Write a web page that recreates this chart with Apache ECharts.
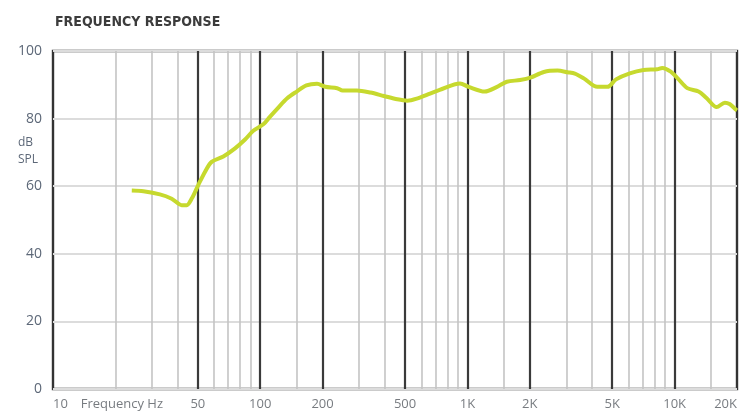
<!DOCTYPE html>
<html>
<head>
<meta charset="utf-8">
<script src="https://cdn.jsdelivr.net/npm/echarts@6/dist/echarts.min.js"></script>
<style>
html,body{margin:0;padding:0;background:#fff;}
#chart{width:739px;height:415px;}
</style>
</head>
<body>
<div id="chart"></div>
<script>
// Frequency response curve (Hz, dB SPL)
var freqHz = [24, 27.3, 32.8, 37.4, 41.8, 44.2, 46.8, 50.3, 54.2, 58.3, 66.4, 75.6, 84.5, 92.6, 103.9, 111.6, 122, 135, 150, 167, 188, 206, 235, 250, 293, 340, 395, 459, 513, 575, 660, 735, 921, 1012, 1212, 1382, 1549, 1796, 2012, 2337, 2720, 3047, 3300, 3645, 4233, 4743, 5213, 6073, 7074, 8240, 8713, 9580, 10350, 11510, 13050, 14290, 15960, 17470, 18420, 19800, 20000];
var splDb  = [58.7, 58.5, 57.6, 56.3, 54.4, 54.4, 56.4, 60.4, 64.3, 67.2, 68.8, 71.2, 73.8, 76.4, 78.4, 80.6, 83.2, 86.0, 88.0, 89.8, 90.3, 89.4, 89.0, 88.3, 88.3, 87.7, 86.7, 85.7, 85.3, 86.0, 87.4, 88.5, 90.4, 89.4, 88.0, 89.3, 90.9, 91.4, 92.1, 93.8, 94.2, 93.7, 93.3, 91.9, 89.4, 89.4, 91.6, 93.4, 94.4, 94.6, 95.0, 93.9, 91.9, 89.0, 88.0, 86.0, 83.4, 84.7, 84.3, 82.6, 82.4];

// Grid lines
var majorLines = [50, 100, 200, 500, 1000, 2000, 5000, 10000];
var minorLines = [20, 30, 40, 60, 70, 80, 90, 150, 300, 400, 600, 700, 800, 900, 1500, 3000, 4000, 6000, 7000, 8000, 9000, 15000];

// Axis labels
var xLabelValues = [10, 21.5, 50, 100, 200, 500, 1000, 2000, 5000, 10000, 20000];
var xLabelTexts  = ['10', 'Frequency Hz', '50', '100', '200', '500', '1K', '2K', '5K', '10K', '20K'];
var yMin = 0, yMax = 100, yStep = 20;

var curve = freqHz.map(function (f, i) { return [f, splDb[i]]; });

var gridMarks = [];
minorLines.forEach(function (f) {
  gridMarks.push({ xAxis: f, lineStyle: { color: '#c4c4c4', width: 1.6, type: 'solid' } });
});
majorLines.forEach(function (f) {
  gridMarks.push({ xAxis: f, lineStyle: { color: '#3a3a3a', width: 2.2, type: 'solid' } });
});

var labelData = xLabelValues.map(function (v, i) {
  var align = 'center';
  if (i === 0) align = 'left';
  if (i === xLabelValues.length - 1) align = 'right';
  return { value: [v, 0], name: xLabelTexts[i], label: { align: align } };
});

var chart = echarts.init(document.getElementById('chart'), null, { renderer: 'canvas' });
chart.setOption({
  animation: false,
  backgroundColor: '#ffffff',
  title: {
    text: 'FREQUENCY RESPONSE',
    left: 50, top: 10,
    textStyle: { fontFamily: '"DejaVu Sans Condensed", "DejaVu Sans", sans-serif', fontWeight: 'bold', fontSize: 14, color: '#3c3c3c' }
  },
  graphic: [{
    type: 'text', left: 18, top: 134,
    style: { text: 'dB\nSPL', fontFamily: 'Open Sans', fontSize: 12, lineHeight: 17, fill: '#5d6878' }
  }],
  grid: { left: 53, right: 2, top: 51, bottom: 26, show: true, borderColor: '#333', borderWidth: 2.4, backgroundColor: 'transparent' },
  xAxis: {
    type: 'log', logBase: 10, min: 10, max: 20000,
    axisLine: { show: false }, axisTick: { show: false }, axisLabel: { show: false }, splitLine: { show: false }
  },
  yAxis: {
    type: 'value', min: yMin, max: yMax, interval: yStep,
    axisLine: { show: false }, axisTick: { show: false },
    axisLabel: { color: '#5d6878', fontFamily: 'Open Sans', fontSize: 14, margin: 11 },
    splitLine: { show: true, lineStyle: { color: '#dcdcdc', width: 2 } }
  },
  series: [
    {
      type: 'line', data: [], z: 1, silent: true,
      markLine: { silent: true, symbol: ['none', 'none'], label: { show: false }, z: 1, animation: false, data: gridMarks }
    },
    {
      type: 'scatter', data: labelData, symbolSize: 0, clip: false, silent: true, z: 1,
      label: {
        show: true, position: 'bottom', distance: 9,
        formatter: function (p) { return p.name; },
        color: '#555a60', fontFamily: 'Open Sans', fontSize: 13
      }
    },
    {
      type: 'line', data: curve, z: 10, smooth: 0.3, showSymbol: false,
      lineStyle: { color: '#c6d92e', width: 4 }
    }
  ]
});
</script>
</body>
</html>
